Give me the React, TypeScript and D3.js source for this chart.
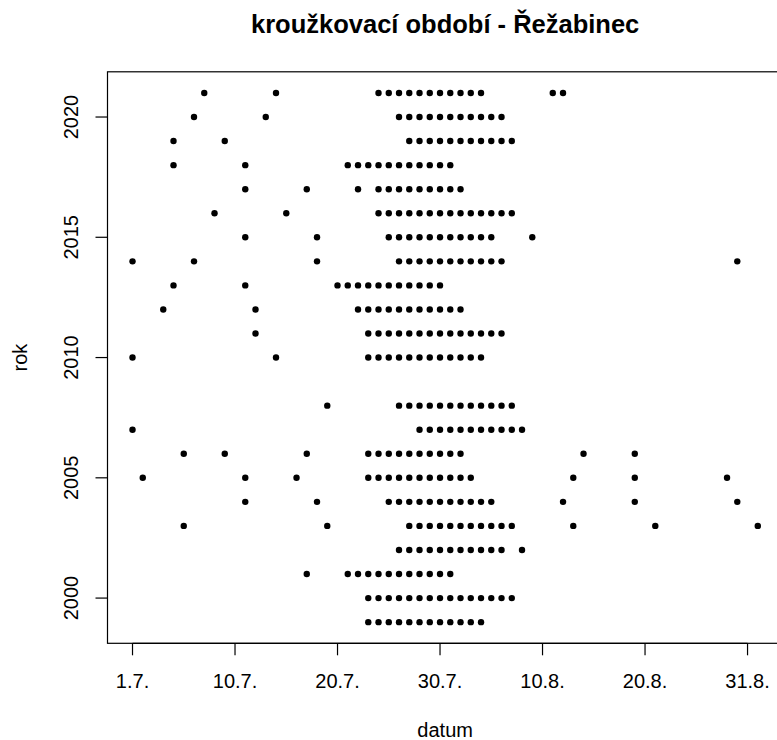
import React from 'react';
import * as d3 from 'd3';

// Day index: 0 = 1.7., 10 = 10.7., ... (one unit per ringing day on the axis)
const xTickValues = [0, 10, 20, 30, 40, 50, 60];
const xTickLabels = ['1.7.', '10.7.', '20.7.', '30.7.', '10.8.', '20.8.', '31.8.'];
const yTickValues = [2000, 2005, 2010, 2015, 2020];

const days1999 = [23, 24, 25, 26, 27, 28, 29, 30, 31, 32, 33, 34];
const days2000 = [23, 24, 25, 26, 27, 28, 29, 30, 31, 32, 33, 34, 35, 36, 37];
const days2001 = [17, 21, 22, 23, 24, 25, 26, 27, 28, 29, 30, 31];
const days2002 = [26, 27, 28, 29, 30, 31, 32, 33, 34, 35, 36, 38];
const days2003 = [5, 19, 27, 28, 29, 30, 31, 32, 33, 34, 35, 36, 37, 43, 51, 61];
const days2004 = [11, 18, 25, 26, 27, 28, 29, 30, 31, 32, 33, 34, 35, 42, 49, 59];
const days2005 = [1, 11, 16, 23, 24, 25, 26, 27, 28, 29, 30, 31, 32, 33, 43, 49, 58];
const days2006 = [5, 9, 17, 23, 24, 25, 26, 27, 28, 29, 30, 31, 32, 44, 49];
const days2007 = [0, 28, 29, 30, 31, 32, 33, 34, 35, 36, 37, 38];
const days2008 = [19, 26, 27, 28, 29, 30, 31, 32, 33, 34, 35, 36, 37];
const days2010 = [0, 14, 23, 24, 25, 26, 27, 28, 29, 30, 31, 32, 33, 34];
const days2011 = [12, 23, 24, 25, 26, 27, 28, 29, 30, 31, 32, 33, 34, 35, 36];
const days2012 = [3, 12, 22, 23, 24, 25, 26, 27, 28, 29, 30, 31, 32];
const days2013 = [4, 11, 20, 21, 22, 23, 24, 25, 26, 27, 28, 29, 30];
const days2014 = [0, 6, 18, 26, 27, 28, 29, 30, 31, 32, 33, 34, 35, 36, 59];
const days2015 = [11, 18, 25, 26, 27, 28, 29, 30, 31, 32, 33, 34, 35, 39];
const days2016 = [8, 15, 24, 25, 26, 27, 28, 29, 30, 31, 32, 33, 34, 35, 36, 37];
const days2017 = [11, 17, 22, 24, 25, 26, 27, 28, 29, 30, 31, 32];
const days2018 = [4, 11, 21, 22, 23, 24, 25, 26, 27, 28, 29, 30, 31];
const days2019 = [4, 9, 27, 28, 29, 30, 31, 32, 33, 34, 35, 36, 37];
const days2020 = [6, 13, 26, 27, 28, 29, 30, 31, 32, 33, 34, 35, 36];
const days2021 = [7, 14, 24, 25, 26, 27, 28, 29, 30, 31, 32, 33, 34, 41, 42];

const years = [1999, 2000, 2001, 2002, 2003, 2004, 2005, 2006, 2007, 2008, 2010, 2011, 2012, 2013, 2014, 2015, 2016, 2017, 2018, 2019, 2020, 2021];
const daysByYear = [days1999, days2000, days2001, days2002, days2003, days2004, days2005, days2006, days2007, days2008, days2010, days2011, days2012, days2013, days2014, days2015, days2016, days2017, days2018, days2019, days2020, days2021];

const W = 777;
const H = 740;
const FONT = '"Liberation Sans", Arial, sans-serif';

export default function App() {
  const points: { d: number; yr: number }[] = [];
  years.forEach((yr, i) => daysByYear[i].forEach((d) => points.push({ d, yr })));

  const xMin = d3.min(points, (p) => p.d)!;
  const xMax = d3.max(points, (p) => p.d)!;
  const yMin = d3.min(years)!;
  const yMax = d3.max(years)!;
  const xPad = (xMax - xMin) * 0.04;
  const yPad = (yMax - yMin) * 0.04;

  const x = d3.scaleLinear().domain([xMin - xPad, xMax + xPad]).range([107.5, 782.8]);
  const y = d3.scaleLinear().domain([yMin - yPad, yMax + yPad]).range([643.3, 71.8]);

  const [x0, x1] = x.range();
  const [yb, yt] = y.range();
  const cx = (x0 + x1) / 2;
  const cy = (yb + yt) / 2;
  const tick = 12;

  return (
    <svg width={W} height={H} style={{ position: 'absolute', left: 0, top: 0, background: '#fff' }} fontFamily={FONT}>
      <rect x={0} y={0} width={W} height={H} fill="#fff" />
      <text x={cx} y={33} textAnchor="middle" fontSize={25.5} fontWeight="bold" fill="#000">
        kroužkovací období - Řežabinec
      </text>
      <rect x={x0} y={yt} width={x1 - x0} height={yb - yt} fill="none" stroke="#000" strokeWidth={1.2} />
      {points.map((p, i) => (
        <circle key={i} cx={x(p.d)} cy={y(p.yr)} r={3.2} fill="#000" />
      ))}
      {/* x axis */}
      <line x1={x(xTickValues[0])} x2={x(xTickValues[xTickValues.length - 1])} y1={yb} y2={yb} stroke="#000" strokeWidth={1.2} />
      {xTickValues.map((v, i) => (
        <g key={v}>
          <line x1={x(v)} x2={x(v)} y1={yb} y2={yb + tick} stroke="#000" strokeWidth={1.2} />
          <text x={x(v)} y={688} textAnchor="middle" fontSize={20} fill="#000">
            {xTickLabels[i]}
          </text>
        </g>
      ))}
      {/* y axis */}
      {yTickValues.map((v) => (
        <g key={v}>
          <line x1={x0 - tick} x2={x0} y1={y(v)} y2={y(v)} stroke="#000" strokeWidth={1.2} />
          <text transform={`translate(77.5,${y(v)}) rotate(-90)`} textAnchor="middle" fontSize={20} fill="#000">
            {v}
          </text>
        </g>
      ))}
      <text x={cx} y={737} textAnchor="middle" fontSize={20} fill="#000">
        datum
      </text>
      <text transform={`translate(27,${cy}) rotate(-90)`} textAnchor="middle" fontSize={20} fill="#000">
        rok
      </text>
    </svg>
  );
}
